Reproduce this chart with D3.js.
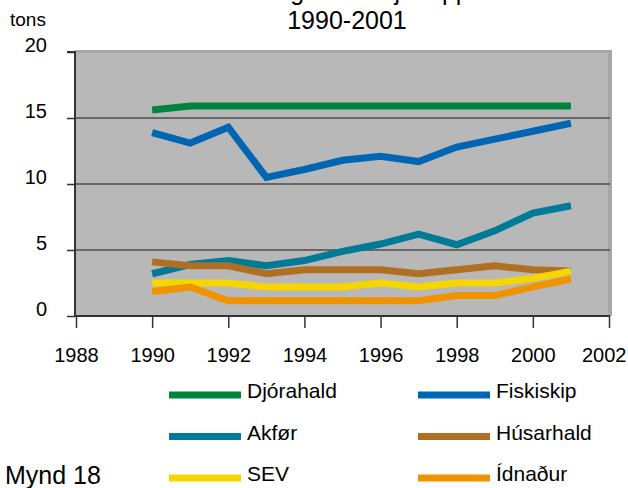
<!DOCTYPE html>
<html><head><meta charset="utf-8">
<script src="https://cdn.jsdelivr.net/npm/d3@7"></script>
<style>body{margin:0;background:#fff}svg{display:block;font-family:"Liberation Sans",Arial,sans-serif}</style>
</head><body><svg id="c" width="628" height="488"></svg>
<script>
const years = [1990,1991,1992,1993,1994,1995,1996,1997,1998,1999,2000,2001];
const seriesNames = ["Djórahald","Fiskiskip","Akfør","Húsarhald","SEV","Ídnaður"];
const djorahald = [15.6,15.9,15.9,15.9,15.9,15.9,15.9,15.9,15.9,15.9,15.9,15.9];
const fiskiskip = [13.9,13.1,14.3,10.5,11.1,11.8,12.1,11.7,12.8,13.4,14.0,14.6];
const akfor     = [3.2,3.9,4.2,3.8,4.2,4.9,5.45,6.2,5.4,6.45,7.8,8.35];
const husarhald = [4.1,3.8,3.8,3.2,3.5,3.5,3.5,3.2,3.5,3.8,3.5,3.4];
const sev       = [2.5,2.5,2.5,2.2,2.2,2.2,2.5,2.2,2.5,2.5,2.85,3.4];
const idnadur   = [1.85,2.2,1.15,1.15,1.15,1.15,1.15,1.15,1.55,1.55,2.2,2.8];
const colors = ["#00843d","#0066b3","#007a96","#b06f22","#f5d600","#ef9400"];
const xTicks = [1988,1990,1992,1994,1996,1998,2000,2002];
const yTicks = [0,5,10,15,20];
const titleWords = ["Útlát av lættgassi ","hjá ","uppruna"];
const titleLine2 = "1990-2001";
const yUnit = "tons";
const figLabel = "Mynd 18";

const data = [djorahald,fiskiskip,akfor,husarhald,sev,idnadur];
const svg = d3.select("#c");
const L=75,R=609,T=52,B=316;
const x = d3.scaleLinear().domain([1988,2002]).range([L+1,R]);
const y = d3.scaleLinear().domain([0,20]).range([B,T]);

// plot background
svg.append("rect").attr("x",L).attr("y",T-2).attr("width",R-L+3).attr("height",B-T+2).attr("fill","#a6a6a6");
svg.append("rect").attr("x",L).attr("y",T+1).attr("width",R-L-1).attr("height",B-T-1).attr("fill","#b8b8b8");

// gridlines
svg.append("g").selectAll("line").data(yTicks.filter(d=>d>0&&d<20)).join("line")
  .attr("x1",L).attr("x2",R+1).attr("y1",d=>y(d)).attr("y2",d=>y(d))
  .attr("stroke","#4d4d4d").attr("stroke-width",1.5);

// axes
const yAxis = d3.axisLeft(y).tickValues(yTicks).tickSize(8).tickFormat(d3.format("d"));
const gy = svg.append("g").attr("transform",`translate(${L},0)`).call(yAxis);
gy.select(".domain").attr("stroke","#333").attr("stroke-width",2).attr("d",`M-8,${T}H0V${B}`);
gy.selectAll(".tick line").attr("stroke","#333").attr("stroke-width",1.5);
gy.selectAll(".tick text").attr("x",-28).attr("dy","-0.05em").attr("font-size",20).attr("fill","#000")
  .attr("font-family","Liberation Sans, Arial, sans-serif");

const xAxis = d3.axisBottom(x).tickValues(xTicks).tickSize(12).tickFormat(d3.format("d"));
const gx = svg.append("g").attr("transform",`translate(0,${B})`).call(xAxis);
gx.select(".domain").attr("stroke","#333").attr("stroke-width",2).attr("d",`M${L},0H${R+1}`);
gx.selectAll(".tick line").attr("stroke","#333").attr("stroke-width",1.5);
gx.selectAll(".tick text").attr("y",32).attr("font-size",20).attr("fill","#000")
  .attr("font-family","Liberation Sans, Arial, sans-serif");
gx.selectAll(".tick text").filter(d=>d===2002).attr("text-anchor","end").attr("x",17);

// lines
const line = d3.line().x((d,i)=>x(years[i])).y(d=>y(d));
svg.append("g").selectAll("path").data(data).join("path")
  .attr("d",d=>line(d)).attr("fill","none")
  .attr("stroke",(d,i)=>colors[i]).attr("stroke-width",7).attr("stroke-linejoin","miter").attr("stroke-linecap","butt");

// titles (first line is cut off at the top edge, as in the reference)
const t1 = svg.append("text").attr("x",157).attr("y",0).attr("font-size",25);
const gaps = [0,25,7];
titleWords.forEach((w,i)=>t1.append("tspan").attr("dx",gaps[i]).text(w));
svg.append("text").attr("x",347).attr("y",29).attr("text-anchor","middle").attr("font-size",25).text(titleLine2);
svg.append("text").attr("x",10).attr("y",26).attr("font-size",19).text(yUnit);
svg.append("text").attr("x",5).attr("y",484).attr("font-size",25).text(figLabel);

// legend
const lg = svg.append("g");
seriesNames.forEach((n,i)=>{
  const col=i%2,row=Math.floor(i/2);
  const lx = col? 418:169, ly = 395+row*41.5;
  lg.append("line").attr("x1",lx).attr("x2",lx+72).attr("y1",ly).attr("y2",ly)
    .attr("stroke",colors[i]).attr("stroke-width",7);
  lg.append("text").attr("x",lx+78).attr("y",ly+3).attr("font-size",21).text(n);
});
</script></body></html>
